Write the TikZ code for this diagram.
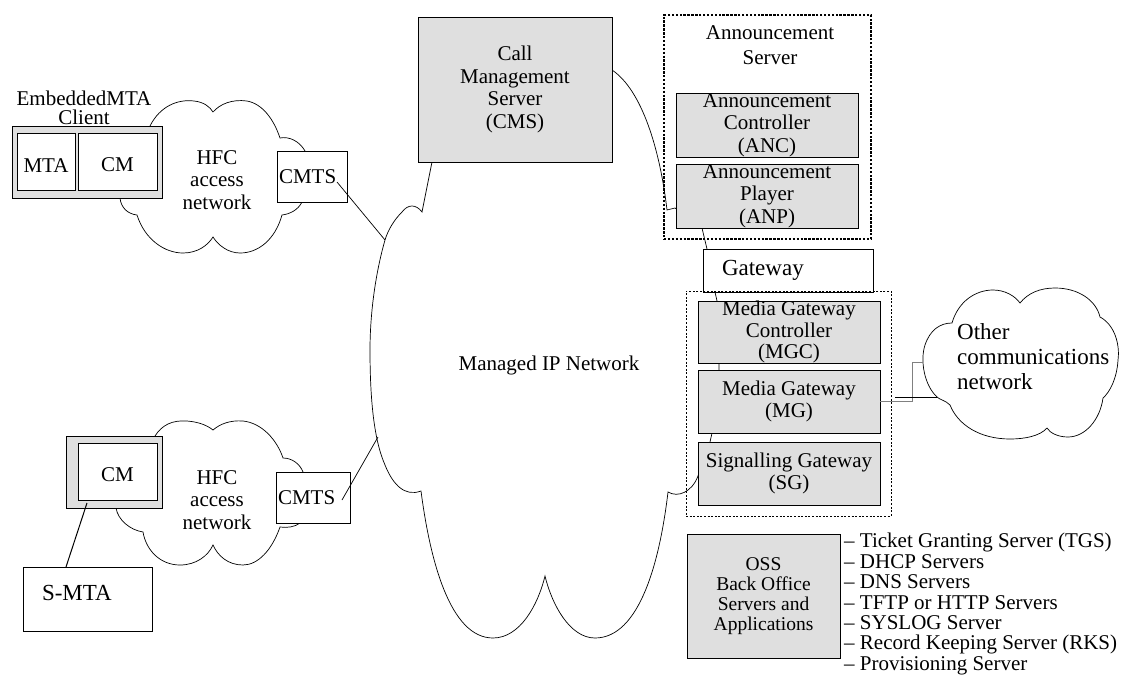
\documentclass[tikz,border=0pt]{standalone}
\usepackage{fontspec}
\setmainfont{Liberation Serif}
\begin{document}
\begin{tikzpicture}[x=1pt, y=-1pt,
    every node/.style={font=\fontsize{21}{22.5}\selectfont},
    cinza/.style={draw, fill=gray!25, line width=0.9pt, inner sep=0pt, align=center},
    branca/.style={draw, fill=white, line width=0.9pt, inner sep=0pt, align=center},
    grupo/.style={draw, line width=0.8pt, dash pattern=on 2pt off 1.6pt},
    nuvem/.style={line width=0.7pt},
    liga/.style={line width=0.7pt}]
    \useasboundingbox (0,0) rectangle (1132,693);

    % Nuvem Managed IP Network
    \draw[nuvem] (432,162) -- (422,212)
        .. controls (416,204) and (408,204) .. (402,212)
        .. controls (394,220) and (388,230) .. (385,240)
        .. controls (375,275) and (370,315) .. (370,350)
        .. controls (370,400) and (374,440) .. (385,465)
        .. controls (393,485) and (405,497) .. (421,491)
        .. controls (430,560) and (450,638) .. (493,638)
        .. controls (520,638) and (538,605) .. (545,576)
        .. controls (552,605) and (570,638) .. (595,638)
        .. controls (640,638) and (660,560) .. (668,492)
        .. controls (678,498) and (692,492) .. (698,476)
        -- (710,442) -- (712,433) -- (719,370) -- (719,363) -- (717,301) -- (715,292)
        -- (707,249) -- (702,228) -- (675,208) -- (667,210)
        .. controls (660,150) and (642,90) .. (612,70)
        -- (520,120) -- cycle;
    \node (iptxt) at (549,365) {Managed IP Network};

    % Nuvens HFC
    \draw[nuvem] (150,126)
        .. controls (160,106) and (178,99) .. (194,101)
        .. controls (204,102) and (210,107) .. (213,112)
        .. controls (220,104) and (232,99) .. (247,101)
        .. controls (263,104) and (274,120) .. (280,138)
        .. controls (290,136) and (300,142) .. (305,151)
        -- (312,176) -- (302,202)
        .. controls (298,210) and (290,214) .. (282,215)
        .. controls (275,240) and (258,253) .. (240,253)
        .. controls (228,253) and (218,245) .. (213,237)
        .. controls (208,245) and (198,253) .. (183,253)
        .. controls (165,253) and (145,240) .. (137,215)
        .. controls (128,214) and (121,208) .. (120,198)
        -- (140,160) -- cycle;
    \node[align=center] (hfcA) at (217,180) {HFC\\access\\network};

    \draw[nuvem] (155,436)
        .. controls (162,425) and (172,420) .. (187,421)
        .. controls (200,422) and (208,426) .. (213,430)
        .. controls (220,424) and (230,420) .. (243,421)
        .. controls (262,423) and (277,440) .. (283,458)
        .. controls (292,458) and (300,464) .. (303,472)
        -- (313,497) -- (300,523)
        .. controls (295,527) and (287,528) .. (280,527)
        .. controls (272,550) and (258,565) .. (243,565)
        .. controls (228,565) and (218,556) .. (213,545)
        .. controls (208,556) and (196,565) .. (180,565)
        .. controls (160,565) and (146,550) .. (143,532)
        .. controls (130,530) and (118,520) .. (116,508)
        -- (140,470) -- cycle;
    \node[align=center] (hfcB) at (217,500) {HFC\\access\\network};

    % Nuvem outra rede
    \draw[nuvem] (937,397)
        .. controls (924,385) and (920,360) .. (925,345)
        .. controls (930,330) and (940,323) .. (952,323)
        .. controls (958,302) and (975,290) .. (993,290)
        .. controls (1005,290) and (1015,296) .. (1020,303)
        .. controls (1028,293) and (1040,288) .. (1055,288)
        .. controls (1078,288) and (1096,300) .. (1100,317)
        .. controls (1115,325) and (1120,345) .. (1118,360)
        .. controls (1117,378) and (1110,392) .. (1103,398)
        .. controls (1100,420) and (1085,437) .. (1068,437)
        .. controls (1058,437) and (1050,433) .. (1047,428)
        .. controls (1040,436) and (1025,439) .. (1010,439)
        .. controls (980,439) and (958,425) .. (950,405)
        .. controls (945,400) and (940,400) .. (937,397) -- cycle;
    \node[anchor=west, align=left, inner sep=0pt, font=\fontsize{23}{25}\selectfont] (outra) at (957,357) {Other\\communications\\network};

    % Clientes
    \node[align=center, font=\fontsize{21}{19}\selectfont] (emtatit) at (84,108) {EmbeddedMTA\\Client};
    \node[cinza, minimum width=150pt, minimum height=72pt] (emta) at (87,162) {};
    \node[branca, minimum width=58pt, minimum height=57pt, text height=21pt] (mta) at (46,161.5) {MTA};
    \node[branca, minimum width=79pt, minimum height=57pt, text height=21pt] (cmA) at (117.5,161.5) {CM};
    \node[branca, minimum width=70pt, minimum height=51pt, text width=66pt, inner xsep=2pt, align=left] (cmtsA) at (312,176.5) {CMTS};

    \node[cinza, minimum width=96pt, minimum height=72pt] (smtaext) at (114,472) {};
    \node[branca, minimum width=79pt, minimum height=57pt, text height=21pt] (cmB) at (117.5,471.5) {CM};
    \node[branca, minimum width=74pt, minimum height=51pt, text width=70pt, inner xsep=2pt, align=left] (cmtsB) at (313,497.5) {CMTS};
    \node[branca, minimum width=129pt, minimum height=64pt, text width=91pt, inner xsep=19pt, align=left, text depth=12pt, font=\fontsize{23}{25}\selectfont] (smta) at (87.5,599) {S-MTA};

    % Servidores
    \node[cinza, minimum width=194pt, minimum height=145pt] (cms) at (515,89.5) {Call\\Management\\Server\\(CMS)};

    \node[grupo, line width=1.2pt, dash pattern=on 2.4pt off 1.5pt, minimum width=207pt, minimum height=224pt] (ans) at (767.5,127) {};
    \node[align=center, font=\fontsize{21}{25}\selectfont] (anstit) at (770,45) {Announcement\\Server};
    \node[cinza, minimum width=182pt, minimum height=64pt] (anc) at (767,125) {Announcement\\Controller\\(ANC)};
    \node[cinza, minimum width=182pt, minimum height=64pt] (anp) at (767,196) {Announcement\\Player\\(ANP)};

    \node[branca, minimum width=170pt, minimum height=43pt, text width=132pt, inner xsep=19pt, align=left, font=\fontsize{23}{25}\selectfont] (gw) at (788,270.5) {Gateway};

    \node[grupo, minimum width=205pt, minimum height=225pt] (gwgrp) at (788.5,403.5) {};
    \node[cinza, minimum width=182pt, minimum height=62pt, font=\fontsize{21}{21.5}\selectfont] (mgc) at (789,332) {Media Gateway\\Controller\\(MGC)};
    \node[cinza, minimum width=182pt, minimum height=63pt] (mg) at (789,401.5) {Media Gateway\\(MG)};
    \node[cinza, minimum width=182pt, minimum height=63pt] (sg) at (789,473.5) {Signalling Gateway\\(SG)};

    \node[cinza, minimum width=153pt, minimum height=124pt, font=\fontsize{19.5}{20}\selectfont] (oss) at (763.5,596) {OSS\\Back Office\\Servers and\\Applications};
    \node[anchor=west, align=left, inner sep=0pt, font=\fontsize{21}{20.4}\selectfont] (osslist) at (844,604)
        {-- Ticket Granting Server (TGS)\\-- DHCP Servers\\-- DNS Servers\\-- TFTP or HTTP Servers\\-- SYSLOG Server\\-- Record Keeping Server (RKS)\\-- Provisioning Server};

    % Ligacoes
    \coordinate (ipA) at (385,240);
    \coordinate (ipB) at (378,437);
    \coordinate (cmtsAp) at (337,182);
    \coordinate (cmtsBp) at (342,500);
    \coordinate (cmBp) at (87,503);
    \coordinate (smtap) at (66,567);
    \coordinate (outA) at (923,362);
    \coordinate (pretoA) at (895,397);
    \coordinate (outB) at (937,397);
    \draw[liga] (cmtsAp) -- (ipA);
    \draw[liga] (cmtsBp) -- (ipB);
    \draw[liga, line width=1pt] (cmBp) -- (smtap);
    \draw[liga, gray] (mg.east) -- ++(32,0) |- (outA);
    \draw[liga, line width=0.9pt] (pretoA) -- (outB);
\end{tikzpicture}
\end{document}
